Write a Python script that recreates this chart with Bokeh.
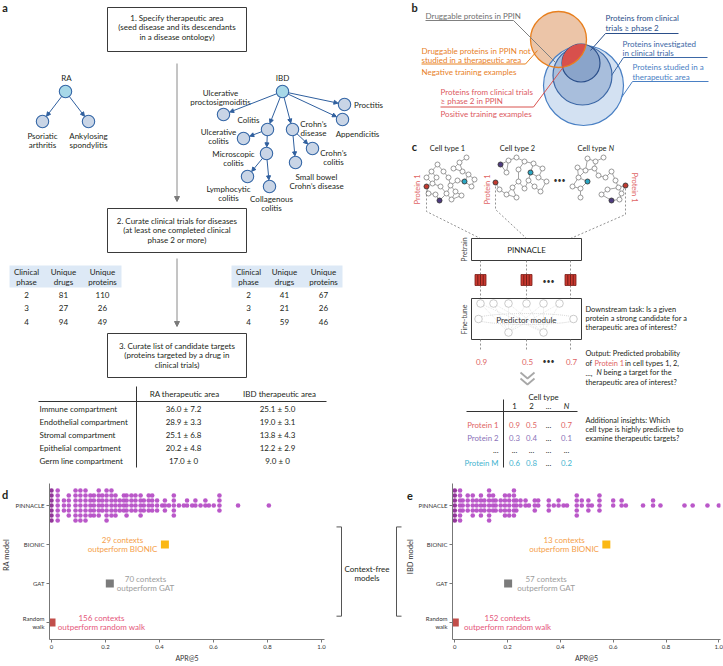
import numpy as np
from bokeh.plotting import figure
from bokeh.models import Range1d, ColumnDataSource, Arrow, NormalHead, FixedTicker
from bokeh.layouts import column, row
from bokeh.embed import file_html
from bokeh.resources import INLINE
from bokeh.core.properties import value

FONT = "Lato"
INK = "#231f20"

# ======================= DATA =======================
step_lines = [
    ["1. Specify therapeutic area", "(seed disease and its descendants", "in a disease ontology)"],
    ["2. Curate clinical trials for diseases", "(at least one completed clinical", "phase 2 or more)"],
    ["3. Curate list of candidate targets", "(proteins targeted by a drug in", "clinical trials)"],
]
ra_tree_names = ["RA", "Psoriatic\narthritis", "Ankylosing\nspondylitis"]
ra_tree_parent = [-1, 0, 0]
ibd_tree_names = ["IBD", "Ulcerative\nproctosigmoiditis", "Colitis", "Crohn\u2019s\ndisease", "Proctitis",
                  "Appendicitis", "Ulcerative\ncolitis", "Microscopic\ncolitis", "Crohn\u2019s\ncolitis",
                  "Small bowel\nCrohn\u2019s disease", "Lymphocytic\ncolitis", "Collagenous\ncolitis"]
ibd_tree_parent = [-1, 0, 0, 0, 0, 0, 2, 2, 3, 3, 7, 7]

trial_headers = ["Clinical\nphase", "Unique\ndrugs", "Unique\nproteins"]
clinical_phase = [2, 3, 4]
ra_unique_drugs = [81, 27, 94]
ra_unique_proteins = [110, 26, 49]
ibd_unique_drugs = [41, 21, 59]
ibd_unique_proteins = [67, 26, 46]

area_headers = ["RA therapeutic area", "IBD therapeutic area"]
compartments = ["Immune compartment", "Endothelial compartment", "Stromal compartment",
                "Epithelial compartment", "Germ line compartment"]
ra_area_mean = [36.0, 28.9, 25.1, 20.2, 17.0]
ra_area_sd = [7.2, 3.3, 6.8, 4.8, 0]
ibd_area_mean = [25.1, 19.0, 13.8, 12.2, 9.0]
ibd_area_sd = [5.0, 3.1, 4.3, 2.9, 0]

venn_gray = ["Druggable proteins in PPIN"]
venn_orange = ["Druggable proteins in PPIN not", "studied in a therapeutic area", "Negative training examples"]
venn_red = ["Proteins from clinical trials", "\u2265 phase 2 in PPIN", "Positive training examples"]
venn_blue1 = ["Proteins from clinical", "trials \u2265 phase 2"]
venn_blue2 = ["Proteins investigated", "in clinical trials"]
venn_blue3 = ["Proteins studied in a", "therapeutic area"]

cell_type_titles = ["Cell type 1", "Cell type 2", "Cell type"]
pinnacle_output = [0.9, 0.5, 0.7]
downstream_text = ["Downstream task: Is a given", "protein a strong candidate for a", "therapeutic area of interest?"]
insight_text = ["Additional insights: Which", "cell type is highly predictive to", "examine therapeutic targets?"]
celltype_cols = ["1", "2", "...", "N"]
protein_rows = ["Protein 1", "Protein 2", "...", "Protein M"]
protein_scores = [["0.9", "0.5", "...", "0.7"],
                  ["0.3", "0.4", "...", "0.1"],
                  ["...", "...", "...", "..."],
                  ["0.6", "0.8", "...", "0.2"]]

models = ["Random walk", "GAT", "BIONIC", "PINNACLE"]
ra_apr_bins = [0.0, 0.023, 0.046, 0.064, 0.089, 0.107, 0.126, 0.144, 0.157, 0.175, 0.188, 0.204,
               0.222, 0.237, 0.253, 0.268, 0.278, 0.296, 0.311, 0.330, 0.342, 0.360, 0.373, 0.391,
               0.410, 0.420, 0.435, 0.453, 0.472, 0.490, 0.502, 0.521, 0.533, 0.552, 0.570, 0.583,
               0.601, 0.622, 0.691, 0.805]
ra_apr_counts = [7, 7, 3, 5, 7, 7, 7, 5, 5, 6, 4, 7, 6, 5, 3, 4, 5, 4, 4, 5, 3, 4, 4, 3,
                 1, 3, 1, 5, 1, 1, 2, 1, 2, 1, 2, 1, 1, 4, 1, 1]
ibd_apr_bins = [0.0, 0.02, 0.03, 0.049, 0.068, 0.083, 0.099, 0.112, 0.13, 0.145, 0.155, 0.174,
                0.19, 0.206, 0.224, 0.233, 0.249, 0.268, 0.281, 0.303, 0.316, 0.356, 0.375, 0.393,
                0.412, 0.425, 0.462, 0.481, 0.506, 0.519, 0.548, 0.60, 0.632, 0.648, 0.713, 0.751,
                0.779, 0.87, 0.901, 0.957, 1.0]
ibd_apr_counts = [7, 7, 3, 4, 5, 3, 5, 3, 7, 4, 3, 3, 5, 5, 6, 3, 2, 2, 1, 3, 2, 3, 1, 2,
                  1, 1, 5, 2, 3, 1, 4, 2, 2, 1, 1, 2, 1, 1, 1, 1, 1]
ra_baseline_apr = {"BIONIC": 0.42, "GAT": 0.216, "Random walk": 0.0}
ra_contexts_outperform = {"BIONIC": 29, "GAT": 70, "Random walk": 156}
ibd_baseline_apr = {"BIONIC": 0.574, "GAT": 0.202, "Random walk": 0.0}
ibd_contexts_outperform = {"BIONIC": 13, "GAT": 57, "Random walk": 152}

# ======================= STYLE / LAYOUT =======================
W = 723
TOP_H = 472
BOT_H = 194

base_kw = dict(output_backend="svg", toolbar_location=None, x_axis_location=None,
               y_axis_location=None, min_border=0)

top = figure(width=W, height=TOP_H, x_range=Range1d(0, 723), y_range=Range1d(472, 0), **base_kw)
top.grid.visible = False
top.outline_line_color = None

TXT = dict(x=[], y=[], text=[], color=[], size=[], align=[], style=[], angle=[])


def add_text(x, y, s, color=INK, size=8, align="center", style="normal", angle=0.0, store=TXT):
    store["x"].append(x); store["y"].append(y); store["text"].append(s)
    store["color"].append(color); store["size"].append(f"{size}px")
    store["align"].append(align); store["style"].append(style); store["angle"].append(angle)


def add_lines(x, y0, lines, dy=9.2, **kw):
    for i, ln in enumerate(lines):
        add_text(x, y0 + i * dy, ln, **kw)


def flush_text(fig, store):
    fig.text(x="x", y="y", text="text", text_color="color", text_font_size="size", text_align="align",
             text_font_style="style", angle="angle", text_baseline="middle", text_font=value(FONT),
             source=ColumnDataSource(store))


# ---------- panel a ----------
add_text(4.5, 7, "a", size=11, style="bold", align="center")
box_top = [7, 208, 333]
box_bot = [51, 252, 377]
box_first = [17, 220, 345]
top.quad(left=[107] * 3, right=[246] * 3, top=box_top, bottom=box_bot,
         fill_color="white", line_color="#3a3a3a", line_width=1)
for i, lines in enumerate(step_lines):
    add_lines(176.5, box_first[i], lines, dy=9.5, size=8)

for (y0, y1) in [(63, 201), (258, 326)]:
    top.add_layout(Arrow(end=NormalHead(size=5, fill_color="#7a7a7a", line_color="#7a7a7a"),
                         x_start=176.5, y_start=y0, x_end=176.5, y_end=y1,
                         line_color="#8a8a8a", line_width=1))

NODE_R = 6.2


def draw_tree(names, parents, node_xy, label_xy):
    xs = [p[0] for p in node_xy]
    ys = [p[1] for p in node_xy]
    fills = ["#a7d8e8" if pa < 0 else "#c9d5e6" for pa in parents]
    xs0, ys0, xs1, ys1 = [], [], [], []
    for i, pa in enumerate(parents):
        if pa < 0:
            continue
        dx, dy = xs[i] - xs[pa], ys[i] - ys[pa]
        d = np.hypot(dx, dy)
        ux, uy = dx / d, dy / d
        xs0.append(xs[pa] + ux * NODE_R); ys0.append(ys[pa] + uy * NODE_R)
        xs1.append(xs[i] - ux * (NODE_R + 0.5)); ys1.append(ys[i] - uy * (NODE_R + 0.5))
    src = ColumnDataSource(dict(x0=xs0, y0=ys0, x1=xs1, y1=ys1))
    top.add_layout(Arrow(end=NormalHead(size=4, fill_color="#2f5f9e", line_color="#2f5f9e"),
                         source=src, x_start="x0", y_start="y0", x_end="x1", y_end="y1",
                         line_color="#2f5f9e", line_width=1))
    top.circle(x=xs, y=ys, radius=NODE_R, fill_color=fills, line_color="#3466a6", line_width=1.1)
    for nm, (lx, ly) in zip(names, label_xy):
        add_lines(lx, ly, nm.split("\n"), dy=9.2, size=8)


ra_node_xy = [(65, 91), (42, 121), (88, 121)]
ra_label_xy = [(66, 77), (42, 135), (88, 135)]
draw_tree(ra_tree_names, ra_tree_parent, ra_node_xy, ra_label_xy)

ibd_node_xy = [(282, 91), (223, 114), (267, 129), (292, 129), (344, 104), (342, 119), (243, 138),
               (266, 153), (312, 148), (295, 162), (247, 176), (269, 186)]
ibd_label_xy = [(282, 77), (220, 92), (248, 119), (313, 123), (368, 104), (357, 133), (218, 131),
                (233, 153), (333, 152), (316, 176), (228, 188), (271, 198)]
draw_tree(ibd_tree_names, ibd_tree_parent, ibd_node_xy, ibd_label_xy)


def trial_table(x_left, x_right, col_x, drugs, prots):
    top.quad(left=[x_left], right=[x_right], top=[265], bottom=[287], fill_color="#dde9f6", line_color=None)
    for cx, h in zip(col_x, trial_headers):
        add_lines(cx, 271.5, h.split("\n"), dy=10, size=8)
    row_y = [294, 307.5, 321]
    for j in range(3):
        add_text(col_x[0], row_y[j], str(clinical_phase[j]), size=8)
        add_text(col_x[1], row_y[j], str(drugs[j]), size=8)
        add_text(col_x[2], row_y[j], str(prots[j]), size=8)


trial_table(9, 121, [26, 63, 102], ra_unique_drugs, ra_unique_proteins)
trial_table(231, 342, [248, 284, 323], ibd_unique_drugs, ibd_unique_proteins)

top.line(x=[136, 136], y=[386, 467], line_color="#333", line_width=1)
top.line(x=[38, 326], y=[401, 401], line_color="#333", line_width=1)
add_text(184, 393, area_headers[0], size=8)
add_text(279, 393, area_headers[1], size=8)
comp_y = [408, 421, 434, 447, 460]


def fmt(m, s):
    return f"{m:.1f} \u00b1 {s:.1f}" if s else f"{m:.1f} \u00b1 0"


for j, c in enumerate(compartments):
    add_text(39, comp_y[j], c, size=8, align="left")
    add_text(183, comp_y[j], fmt(ra_area_mean[j], ra_area_sd[j]), size=8)
    add_text(277, comp_y[j], fmt(ibd_area_mean[j], ibd_area_sd[j]), size=8)

# ---------- panel b ----------
add_text(414, 7, "b", size=11, style="bold")
orange_c = (558, 39, 28)
inner_c = (580.5, 62.5, 19)
top.circle(x=[orange_c[0]], y=[orange_c[1]], radius=orange_c[2], fill_color="#ecc5a8", line_color=None)
top.circle(x=[583], y=[85], radius=40, fill_color="#d3e1f2", line_color="#4a80c4", line_width=1.2)
top.circle(x=[582], y=[75], radius=29.5, fill_color="#a8bedc", line_color="#3d68a6", line_width=1.2)
top.circle(x=[inner_c[0]], y=[inner_c[1]], radius=inner_c[2], fill_color="#8aa4ca", line_color="#2b4f8a",
           line_width=1.2)
t = np.linspace(0, 2 * np.pi, 400)
pa = np.c_[inner_c[0] + inner_c[2] * np.cos(t), inner_c[1] + inner_c[2] * np.sin(t)]
pb = np.c_[orange_c[0] + orange_c[2] * np.cos(t), orange_c[1] + orange_c[2] * np.sin(t)]
ka = np.hypot(pa[:, 0] - orange_c[0], pa[:, 1] - orange_c[1]) <= orange_c[2]
kb = np.hypot(pb[:, 0] - inner_c[0], pb[:, 1] - inner_c[1]) <= inner_c[2]
pts = np.vstack([pa[ka], pb[kb]])
cen = pts.mean(axis=0)
order = np.argsort(np.arctan2(pts[:, 1] - cen[1], pts[:, 0] - cen[0]))
pts = pts[order]
top.patch(x=pts[:, 0], y=pts[:, 1], fill_color="#d8504c", line_color=None)
top.circle(x=[orange_c[0]], y=[orange_c[1]], radius=orange_c[2], fill_color=None,
           line_color="#e8801f", line_width=1.3)

leaders = [
    ([425, 513, 555], [20, 20, 62], "#808080"),
    ([421, 525, 537], [63.5, 63.5, 50], "#e8801f"),
    ([440, 533, 570], [106.5, 106.5, 57], "#d9534f"),
    ([678, 605, 590], [33, 33, 50], "#2b4f8a"),
    ([707, 623, 611], [57, 57, 75], "#3d68a6"),
    ([708, 632, 621], [81, 81, 97], "#4a80c4"),
]
top.multi_line(xs=[l[0] for l in leaders], ys=[l[1] for l in leaders],
               line_color=[l[2] for l in leaders], line_width=1)
add_lines(425, 15, venn_gray, color="#6f6f6f", align="left")
add_text(421, 50, venn_orange[0], color="#e8801f", align="left")
add_text(421, 59, venn_orange[1], color="#e8801f", align="left")
add_text(421, 71, venn_orange[2], color="#e8801f", align="left")
add_text(440, 91, venn_red[0], color="#dc5a5f", align="left")
add_text(440, 100, venn_red[1], color="#dc5a5f", align="left")
add_text(440, 113, venn_red[2], color="#dc5a5f", align="left")
add_lines(605, 17.5, venn_blue1, dy=9.5, color="#2b4f8a", align="left")
add_lines(622, 43, venn_blue2, dy=9.5, color="#3d68a6", align="left")
add_lines(632, 66.5, venn_blue3, dy=9.5, color="#4a80c4", align="left")

# ---------- panel c ----------
add_text(414, 146, "c", size=11, style="bold")
add_text(447, 148, cell_type_titles[0], size=7.5)
add_text(517, 148, cell_type_titles[1], size=7.5)
add_text(577, 148, cell_type_titles[2], size=7.5, align="left")
add_text(611, 148, "N", size=7.5, style="italic")

net1 = [(437, 164), (459, 162), (431, 171), (443, 171), (453, 168), (462, 171), (426, 177), (436, 177),
        (448, 177), (468, 174), (474, 179), (432, 183), (426, 186), (440, 186), (450, 185), (457, 180),
        (464, 181), (471, 186), (428, 193), (435, 194), (446, 193), (455, 191), (439, 200), (451, 199),
        (461, 195), (466, 157)]
net2 = [(500, 164), (508, 160), (516, 157), (524, 161), (533, 163), (542, 168), (530, 172), (538, 177),
        (518, 169), (506, 172), (495, 182), (499, 189), (506, 194), (512, 187), (518, 181), (524, 188),
        (528, 180), (534, 186), (540, 191), (516, 197), (546, 181)]
netN = [(587, 158), (595, 161), (603, 157), (577, 167), (585, 170), (594, 168), (578, 177), (572, 186),
        (580, 188), (587, 181), (580, 197), (598, 175), (605, 177), (611, 171), (615, 180), (618, 187),
        (625, 185), (621, 193), (607, 189), (601, 194), (611, 200), (619, 199)]
special = [(net1, {12: "#c23a30", 16: "#2aa6c2", 22: "#4e3b80"}),
           (net2, {10: "#c23a30", 6: "#2aa6c2", 0: "#4e3b80"}),
           (netN, {16: "#c23a30", 9: "#2aa6c2", 20: "#4e3b80"})]
ex, ey = [], []
for net, _ in special:
    P = np.array(net, dtype=float)
    seen = set()
    for i in range(len(P)):
        d = np.hypot(P[:, 0] - P[i, 0], P[:, 1] - P[i, 1])
        d[i] = 1e9
        for j in np.argsort(d)[:2]:
            if d[j] < 13 and (min(i, j), max(i, j)) not in seen:
                seen.add((min(i, j), max(i, j)))
                ex.append([P[i, 0], P[j, 0]]); ey.append([P[i, 1], P[j, 1]])
top.multi_line(xs=ex, ys=ey, line_color="#8c8c8c", line_width=0.8)
nx, ny, nf, nl = [], [], [], []
for net, sp in special:
    for k, (x, y) in enumerate(net):
        nx.append(x); ny.append(y)
        nf.append(sp.get(k, "white"))
        nl.append("#3a3a3a" if k in sp else "#8c8c8c")
top.circle(x=nx, y=ny, radius=2.5, fill_color=nf, line_color=nl, line_width=0.9)
add_text(559, 179, "\u2022\u2022\u2022", size=7, color="#333")
add_text(417, 189, "Protein 1", color="#e06464", size=7.5, angle=np.pi / 2)
add_text(487, 189, "Protein 1", color="#e06464", size=7.5, angle=np.pi / 2)
add_text(634, 187, "Protein 1", color="#e06464", size=7.5, angle=-np.pi / 2)

dash = [([426, 426, 480], [190, 211, 238]), ([495, 495, 526], [186, 209, 238]),
        ([625, 625, 570], [188, 214, 238])]
top.multi_line(xs=[d[0] for d in dash], ys=[d[1] for d in dash], line_color="#777",
               line_width=0.8, line_dash="2 2")
top.quad(left=[471], right=[581], top=[238], bottom=[260], fill_color="white", line_color="#3a3a3a")
add_text(526, 249.5, "PINNACLE", size=8)
add_text(463, 249, "Pretrain", size=7, color="#444", angle=np.pi / 2)

col3 = [480, 526, 570]
top.multi_line(xs=[[c, c] for c in col3] * 2, ys=[[260, 274]] * 3 + [[285, 298]] * 3,
               line_color="#777", line_width=0.8, line_dash="2 2")
top.quad(left=[c - 5.5 for c in col3], right=[c + 5.5 for c in col3], top=[274] * 3, bottom=[285] * 3,
         fill_color="#c9392f", line_color="#7a1d17", line_width=0.8)
sx, sy = [], []
for c in col3:
    for o in (-2.7, 0, 2.7):
        sx.append([c + o, c + o]); sy.append([274.5, 284.5])
top.multi_line(xs=sx, ys=sy, line_color="#6d1a14", line_width=0.9)
add_text(548, 280, "\u2022\u2022\u2022", size=7, color="#333")

top.quad(left=[471], right=[581], top=[298], bottom=[339], fill_color="white", line_color="#3a3a3a")
nn_top = [480, 493, 508, 526, 543, 559]
nn_bot = [508, 543]
wx, wy = [], []
for a in nn_top:
    for b in nn_bot:
        wx.append([a, b]); wy.append([303, 332])
top.multi_line(xs=wx, ys=wy, line_color="#d4d4d4", line_width=0.6, line_dash="1 1")
top.ellipse(x=[526], y=[318.5], width=[100], height=[11], fill_color=None, line_color="#c8c8c8",
            line_dash="1 1", line_width=0.8)
top.circle(x=nn_top + [478, 573] + nn_bot, y=[303] * 6 + [318.5, 318.5] + [332, 332], radius=3.8,
           fill_color="white", line_color="#bdbdbd", line_width=0.8)
add_text(526, 319, "Predictor module", size=8, color="#333")
add_text(463, 319, "Fine-tune", size=7, color="#444", angle=np.pi / 2)
top.multi_line(xs=[[c, c] for c in col3], ys=[[339, 351]] * 3, line_color="#777",
               line_width=0.8, line_dash="2 2")
for c, v in zip(col3, pinnacle_output):
    add_text(c + 1, 361, f"{v:.1f}", color="#e06464", size=8)
add_text(548, 360, "\u2022\u2022\u2022", size=7, color="#333")
top.multi_line(xs=[[520, 527, 534], [520, 527, 534]], ys=[[372, 378, 372], [378, 384, 378]],
               line_color="#a8a8a8", line_width=1.8)

RS = 7.4
add_lines(585, 309, downstream_text, dy=9.2, size=RS, align="left")
add_text(585, 353, "Output: Predicted probability", size=RS, align="left")
add_text(585, 362.5, "of", size=RS, align="left")
add_text(594, 362.5, "Protein 1", size=RS, align="left", color="#e06464")
add_text(624.5, 362.5, "in cell types 1, 2,", size=RS, align="left")
add_text(585, 372, "...,", size=RS, align="left")
add_text(596, 372, "N", size=RS, align="left", style="italic")
add_text(603, 372, "being a target for the", size=RS, align="left")
add_text(585, 381.5, "therapeutic area of interest?", size=RS, align="left")
add_lines(585, 420, insight_text, dy=9.2, size=RS, align="left")

add_text(543, 396, "Cell type", size=7.8)
ct_x = [514, 531, 548, 566]
for cx, lab in zip(ct_x, celltype_cols):
    add_text(cx, 405, lab, size=7.8, style="italic" if lab == "N" else "normal")
top.line(x=[466, 577], y=[411, 411], line_color="#333", line_width=1)
top.line(x=[503, 503], y=[399, 467], line_color="#333", line_width=1)
row_y = [424, 437, 449.5, 462]
row_col = ["#e06464", "#8a72b8", INK, "#3fb3cf"]
for r, (lab, ry, rc) in enumerate(zip(protein_rows, row_y, row_col)):
    add_text(498, ry, lab, size=7.8, align="right", color=rc)
    for cx, s in zip(ct_x, protein_scores[r]):
        add_text(cx, ry, s, size=7.8, color=INK if s == "..." else rc)

flush_text(top, TXT)

# ======================= panels d & e =======================
FRAME_TOP, FRAME_BOT = 483, 639
PX_PER = 39.0
Y1 = 3 + (505 - FRAME_TOP) / PX_PER
Y0 = -(FRAME_BOT - 622) / PX_PER
STEP = 5 / PX_PER
note_colors = {"BIONIC": "#f5a04a", "GAT": "#9c9c9c", "Random walk": "#e5577b"}
sq_colors = {"BIONIC": "#fbb812", "GAT": "#7b7b7b", "Random walk": "#c24e4a"}


def swarm(bins, counts, yc):
    xs, ys = [], []
    for b, c in zip(bins, counts):
        for k in range(c):
            off = ((k + 1) // 2) * (1 if k % 2 else -1)
            xs.append(b); ys.append(yc + off * STEP)
    return xs, ys


def apr_panel(width, bl, br, xr, bins, counts, base, nums, note_x):
    f = figure(width=width, height=BOT_H, x_range=Range1d(*xr), y_range=Range1d(Y0, Y1),
               output_backend="svg", toolbar_location=None, min_border_left=bl,
               min_border_right=br, min_border_top=FRAME_TOP - 472,
               min_border_bottom=472 + BOT_H - FRAME_BOT)
    f.grid.visible = False
    f.outline_line_color = None
    xs, ys = swarm(bins, counts, 3)
    cols = ["#8c2c94" if v == 0 else "#b64fc6" for v in xs]
    f.scatter(x=xs, y=ys, size=4.6, fill_color=cols, line_color=None, fill_alpha=0.95)
    for m in ["BIONIC", "GAT", "Random walk"]:
        yv = models.index(m)
        f.scatter(x=[base[m]], y=[yv], marker="square", size=8, fill_color=sq_colors[m], line_color=None)
        f.text(x=[note_x[m]] * 2, y=[yv, yv],
               text=[f"{nums[m]} contexts", f"outperform {m if m != 'Random walk' else 'random walk'}"],
               y_offset=[-4.6, 4.6], text_align="center", text_baseline="middle",
               text_font_size="8px", text_color=note_colors[m], text_font=value(FONT))
    f.xaxis.ticker = FixedTicker(ticks=[0, 0.2, 0.4, 0.6, 0.8, 1.0])
    f.xaxis.major_label_overrides = {0: "0", 1: "1.0"}
    f.yaxis.ticker = FixedTicker(ticks=[0, 1, 2, 3])
    f.yaxis.major_label_overrides = {0: "Random\nwalk", 1: "GAT", 2: "BIONIC", 3: "PINNACLE"}
    for ax in (f.xaxis, f.yaxis):
        ax.minor_tick_line_color = None
        ax.major_tick_in = 0
        ax.major_tick_out = 3
        ax.major_label_standoff = 2
        ax.axis_line_color = "#777"
        ax.major_tick_line_color = "#777"
        ax.major_label_text_font = FONT
        ax.major_label_text_color = "#333"
        ax.major_label_text_font_size = "6px"
    f.xaxis.axis_label = "APR@5"
    f.xaxis.axis_label_text_font = FONT
    f.xaxis.axis_label_text_font_style = "normal"
    f.xaxis.axis_label_text_color = "#333"
    f.xaxis.axis_label_text_font_size = "7px"
    f.xaxis.axis_label_standoff = 2
    return f


# left strip with panel letter d and the RA y-axis title
strip = figure(width=12, height=BOT_H, x_range=Range1d(0, 12), y_range=Range1d(666, 472), **base_kw)
strip.grid.visible = False
strip.outline_line_color = None
S1 = dict(x=[], y=[], text=[], color=[], size=[], align=[], style=[], angle=[])
add_text(4.5, 486, "d", size=11, style="bold", store=S1)
add_text(6, 561, "RA model", size=7.5, color="#333", angle=np.pi / 2, store=S1)
flush_text(strip, S1)

fig_d = apr_panel(323, 37, 11, (-2 / 270, 273 / 270), ra_apr_bins, ra_apr_counts, ra_baseline_apr,
                  ra_contexts_outperform, {"BIONIC": 0.263, "GAT": 0.348, "Random walk": 0.185})

mid = figure(width=80, height=BOT_H, x_range=Range1d(335, 415), y_range=Range1d(666, 472), **base_kw)
mid.grid.visible = False
mid.outline_line_color = None
mid.multi_line(xs=[[336, 341, 341, 336], [401, 396, 396, 401]],
               ys=[[526, 526, 637, 637], [526, 526, 637, 637]], line_color="#555", line_width=1)
S2 = dict(x=[], y=[], text=[], color=[], size=[], align=[], style=[], angle=[])
add_text(366.5, 578, "Context-free", size=8, store=S2)
add_text(366.5, 589, "models", size=8, store=S2)
add_text(409.5, 488, "e", size=11, style="bold", store=S2)
add_text(410, 563, "IBD model", size=7.5, color="#333", angle=np.pi / 2, store=S2)
flush_text(mid, S2)

fig_e = apr_panel(308, 35, 3, (-2.3 / 266, 267.7 / 266), ibd_apr_bins, ibd_apr_counts, ibd_baseline_apr,
                  ibd_contexts_outperform, {"BIONIC": 0.414, "GAT": 0.346, "Random walk": 0.2})

p = column(top, row(strip, fig_d, mid, fig_e))
open("out.html", "w").write(file_html(p, INLINE))
